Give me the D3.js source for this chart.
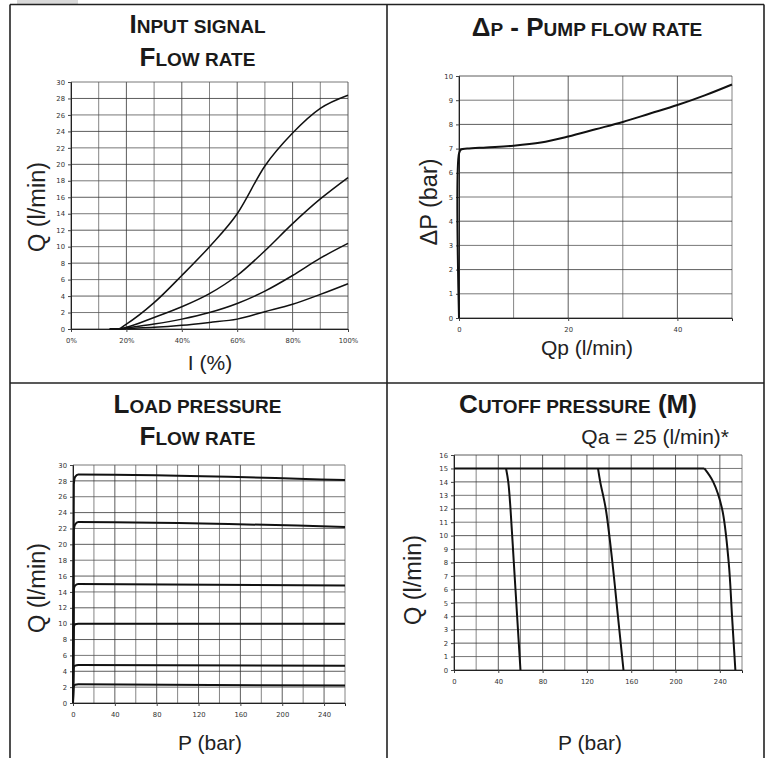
<!DOCTYPE html>
<html><head><meta charset="utf-8">
<script src="https://cdn.jsdelivr.net/npm/d3@7"></script>
<style>
html,body{margin:0;padding:0;background:#fff;}
svg{display:block;}
</style></head>
<body>
<svg id="c" width="767" height="758"></svg>
<script>
// ---------- DATA ----------
// Panel 1: Input signal - Flow rate
const inputPct = [14, 17, 20, 30, 40, 50, 60, 70, 80, 90, 100];
const flowA = [0, 0, 0.6, 3.2, 6.5, 10.0, 14.0, 19.8, 23.8, 26.8, 28.4];
const flowB = [0, 0, 0.2, 1.4, 2.7, 4.3, 6.5, 9.5, 12.8, 15.8, 18.4];
const flowC = [0, 0, 0.15, 0.6, 1.2, 2.0, 3.1, 4.6, 6.5, 8.6, 10.4];
const flowD = [0, 0, 0.05, 0.2, 0.45, 0.8, 1.2, 2.1, 3.0, 4.2, 5.5];
const p1XTicks = [0, 20, 40, 60, 80, 100];
const p1YTicks = [0,2,4,6,8,10,12,14,16,18,20,22,24,26,28,30];

// Panel 2: dP - pump flow rate
const pumpQp = [0, 0, 0.4, 1.5, 5, 10, 15, 20, 25, 30, 35, 40, 45, 50];
const pumpDp = [0, 6.8, 6.97, 7.0, 7.05, 7.12, 7.25, 7.5, 7.8, 8.1, 8.45, 8.8, 9.2, 9.65];
const p2XTicks = [0, 20, 40];
const p2YTicks = [0,1,2,3,4,5,6,7,8,9,10];

// Panel 3: Load pressure - flow rate
const loadP = [0, 0.8, 2, 5, 260];
const loadQ1 = [0, 27.6, 28.5, 28.8, 28.1];
const loadQ2 = [0, 21.8, 22.5, 22.8, 22.2];
const loadQ3 = [0, 14.3, 14.8, 15.0, 14.8];
const loadQ4 = [0, 9.5, 9.9, 10.0, 10.0];
const loadQ5 = [0, 4.5, 4.7, 4.8, 4.7];
const loadQ6 = [0, 2.1, 2.3, 2.35, 2.2];
const p3XTicks = [0, 40, 80, 120, 160, 200, 240];
const p3YTicks = [0,2,4,6,8,10,12,14,16,18,20,22,24,26,28,30];

// Panel 4: Cutoff pressure (M)
const cutQ = [15, 14, 12, 8, 4, 0];
const cutP1 = [47, 49, 51, 54, 57, 60];
const cutP2 = [130, 132, 137, 143, 148, 153];
const cutP3 = [226, 234, 242, 248, 251, 254];
const cutTopP = [0, 226];
const cutTopQ = [15, 15];
const p4XTicks = [0, 40, 80, 120, 160, 200, 240];
const p4YTicks = [0,1,2,3,4,5,6,7,8,9,10,11,12,13,14,15,16];

// ---------- DRAW ----------
const svg = d3.select("#c");
const SANS = "'Liberation Sans', Arial, Helvetica, sans-serif";

// light grey tab at top-left
svg.append("rect").attr("x",17).attr("y",0).attr("width",61).attr("height",4).attr("fill","#d9d9d9");

// frame
const frame = svg.append("g").attr("stroke","#222").attr("stroke-width",1.6).attr("fill","none");
frame.append("line").attr("x1",10).attr("y1",4.5).attr("x2",764).attr("y2",4.5);
frame.append("line").attr("x1",10).attr("y1",4.5).attr("x2",10).attr("y2",758);
frame.append("line").attr("x1",764).attr("y1",4.5).attr("x2",764).attr("y2",758);
frame.append("line").attr("x1",387).attr("y1",4.5).attr("x2",387).attr("y2",758);
frame.append("line").attr("x1",10).attr("y1",383).attr("x2",764).attr("y2",383);

function title(cx, y, segs){
  const t = svg.append("text").attr("x",cx).attr("y",y).attr("text-anchor","middle")
    .attr("font-family",SANS).attr("font-weight","bold").attr("fill","#1a1a1a");
  segs.forEach(s => t.append("tspan").attr("font-size", s[1] ? 26 : 19).text(s[0]));
}
function label(x, y, txt, rot){
  const t = svg.append("text").attr("font-family",SANS).attr("font-size",rot ? 23.5 : 21).attr("fill","#222")
    .attr("text-anchor","middle").attr("dominant-baseline","central").text(txt);
  if(rot) t.attr("transform",`translate(${x},${y}) rotate(-90)`);
  else t.attr("x",x).attr("y",y);
  return t;
}

function panel(cfg){
  const x = d3.scaleLinear().domain(cfg.xd).range(cfg.xr);
  const y = d3.scaleLinear().domain(cfg.yd).range(cfg.yr);
  const g = svg.append("g");
  // grid
  const gx = d3.range(cfg.xd[0], cfg.xd[1] + 1e-9, cfg.xStep);
  const gy = d3.range(cfg.yd[0], cfg.yd[1] + 1e-9, cfg.yStep);
  g.append("g").selectAll("line").data(gx).join("line")
    .attr("x1",d=>x(d)).attr("x2",d=>x(d)).attr("y1",cfg.yr[0]).attr("y2",cfg.yr[1])
    .attr("stroke",(d,i)=> i%2 ? "#666" : "#333").attr("stroke-width",0.8);
  g.append("g").selectAll("line").data(gy).join("line")
    .attr("y1",d=>y(d)).attr("y2",d=>y(d)).attr("x1",cfg.xr[0]).attr("x2",cfg.xr[1])
    .attr("stroke",(d,i)=> i%2 ? "#555" : "#333").attr("stroke-width",0.8);
  // axes
  const ax = g.append("g").attr("transform",`translate(0,${cfg.yr[0]})`)
    .call(d3.axisBottom(x).tickValues(cfg.xTicks).tickSize(3).tickPadding(6).tickFormat(cfg.xFmt || (d=>d)));
  const ay = g.append("g").attr("transform",`translate(${cfg.xr[0]},0)`)
    .call(d3.axisLeft(y).tickValues(cfg.yTicks).tickSize(3).tickPadding(3).tickFormat(d=>d));
  [ax, ay].forEach(a=>{
    a.select(".domain").attr("stroke","#222").attr("stroke-width",1);
    a.selectAll(".tick line").attr("stroke","#444");
    a.selectAll("text").attr("font-family","'DejaVu Sans', sans-serif").attr("font-size",6.8).attr("fill","#333");
  });
  return {x, y, g};
}

// ----- Panel 1 -----
title(197.5, 33, [["I",1],["NPUT SIGNAL",0]]);
title(197.5, 66, [["F",1],["LOW RATE",0]]);
const P1 = panel({xd:[0,100], xr:[71,348], yd:[0,30], yr:[329,82], xStep:10, yStep:2,
  xTicks:p1XTicks, yTicks:p1YTicks, xFmt:d=>d+"%"});
[flowA, flowB, flowC, flowD].forEach(s=>{
  const line = d3.line().x((d,i)=>P1.x(inputPct[i])).y(d=>P1.y(d)).curve(d3.curveMonotoneX);
  P1.g.append("path").attr("d",line(s)).attr("fill","none").attr("stroke","#111").attr("stroke-width",1.5);
});
label(37, 207, "Q (l/min)", true);
label(210, 362, "I (%)");

// ----- Panel 2 -----
title(587, 36, [["Δ",1],["P",0],[" - P",1],["UMP FLOW RATE",0]]);
const P2 = panel({xd:[0,50], xr:[459,732], yd:[0,10], yr:[318,76], xStep:10, yStep:1,
  xTicks:p2XTicks, yTicks:p2YTicks});
{
  const line = d3.line().x((d,i)=>P2.x(pumpQp[i])).y(d=>P2.y(d)).curve(d3.curveCatmullRom);
  P2.g.append("path").attr("d",line(pumpDp)).attr("fill","none").attr("stroke","#111").attr("stroke-width",2);
}
label(429, 202, "ΔP (bar)", true);
label(587, 347, "Qp (l/min)");

// ----- Panel 3 -----
title(197.5, 413, [["L",1],["OAD PRESSURE",0]]);
title(197.5, 445, [["F",1],["LOW RATE",0]]);
const P3 = panel({xd:[0,260], xr:[73,345], yd:[0,30], yr:[703,465], xStep:20, yStep:2,
  xTicks:p3XTicks, yTicks:p3YTicks});
[loadQ1, loadQ2, loadQ3, loadQ4, loadQ5, loadQ6].forEach(s=>{
  const line = d3.line().x((d,i)=>P3.x(loadP[i])).y(d=>P3.y(d)).curve(d3.curveMonotoneX);
  P3.g.append("path").attr("d",line(s)).attr("fill","none").attr("stroke","#111").attr("stroke-width",2);
});
label(37, 588, "Q (l/min)", true);
label(210, 742, "P (bar)");

// ----- Panel 4 -----
title(578, 413, [["C",1],["UTOFF PRESSURE",0],[" (M)",1]]);
svg.append("text").attr("x",729).attr("y",444).attr("text-anchor","end")
  .attr("font-family",SANS).attr("font-size",21).attr("fill","#222").text("Qa = 25 (l/min)*");
const P4 = panel({xd:[0,260], xr:[454,742], yd:[0,16], yr:[670,455], xStep:20, yStep:1,
  xTicks:p4XTicks, yTicks:p4YTicks});
{
  const top = d3.line().x((d,i)=>P4.x(cutTopP[i])).y(d=>P4.y(d));
  P4.g.append("path").attr("d",top(cutTopQ)).attr("fill","none").attr("stroke","#111").attr("stroke-width",2);
  [cutP1, cutP2, cutP3].forEach(s=>{
    const line = d3.line().x(d=>P4.x(d)).y((d,i)=>P4.y(cutQ[i])).curve(d3.curveCatmullRom);
    P4.g.append("path").attr("d",line(s)).attr("fill","none").attr("stroke","#111").attr("stroke-width",2);
  });
}
label(413, 580, "Q (l/min)", true);
label(590, 742, "P (bar)");
</script>
</body></html>
